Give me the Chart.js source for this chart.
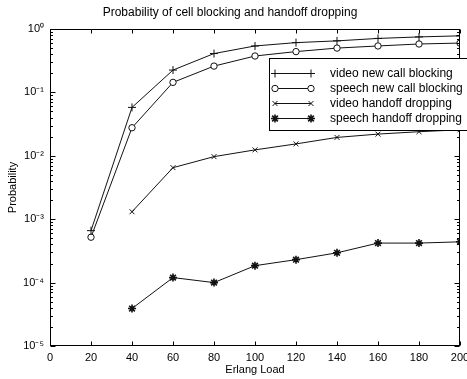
<!DOCTYPE html>
<html><head><meta charset="utf-8">
<style>html,body{margin:0;padding:0;background:#fff}#wrap{width:467px;height:379px}</style>
<script src="https://cdn.jsdelivr.net/npm/chart.js"></script>
</head><body><div id="wrap"><canvas id="c" width="467" height="379"></canvas></div>
<script>
const erlangLoad = [20, 40, 60, 80, 100, 120, 140, 160, 180, 200];
const videoNewCallBlocking  = [6.6e-4, 0.058, 0.225, 0.41, 0.54, 0.61, 0.65, 0.71, 0.75, 0.78];
const speechNewCallBlocking = [5.2e-4, 0.0277, 0.144, 0.26, 0.375, 0.44, 0.50, 0.54, 0.58, 0.60];
const videoHandoffDropping  = [null, 1.31e-3, 6.5e-3, 9.7e-3, 0.0124, 0.0154, 0.0195, 0.022, 0.024, 0.0257];
const speechHandoffDropping = [null, 3.9e-5, 1.2e-4, 1.0e-4, 1.85e-4, 2.3e-4, 2.95e-4, 4.2e-4, 4.2e-4, 4.4e-4];
const seriesLabels = ['video new call blocking', 'speech new call blocking', 'video handoff dropping', 'speech handoff dropping'];
const xTickValues = [0, 20, 40, 60, 80, 100, 120, 140, 160, 180, 200];
const yTickValues = [1e-5, 1e-4, 1e-3, 1e-2, 1e-1, 1];
const yTickLabels = ['10\u207B\u2075', '10\u207B\u2074', '10\u207B\u00B3', '10\u207B\u00B2', '10\u207B\u00B9', '10\u2070'];
const titleText = 'Probability of cell blocking and handoff dropping';
const xTitle = 'Erlang Load';
const yTitle = 'Probability';

const FONT = "'Liberation Sans', Arial, sans-serif";
Chart.defaults.font.family = FONT;
Chart.defaults.color = '#000';

function pts(arr) { return erlangLoad.map((x, i) => ({x: x, y: arr[i]})).filter(p => p.y !== null); }

const styles = [
  {pointStyle: 'cross', pointRadius: 4, bg: '#000', bw: 1},
  {pointStyle: 'circle', pointRadius: 3.2, bg: '#fff', bw: 1},
  {pointStyle: 'crossRot', pointRadius: 3.5, bg: '#000', bw: 1},
  {pointStyle: 'star', pointRadius: 4, bg: '#000', bw: 1.6}
];
const seriesData = [videoNewCallBlocking, speechNewCallBlocking, videoHandoffDropping, speechHandoffDropping];

const datasets = seriesData.map((arr, i) => ({
  label: seriesLabels[i],
  data: pts(arr),
  borderColor: '#111',
  borderWidth: 1,
  pointStyle: styles[i].pointStyle,
  pointRadius: styles[i].pointRadius,
  pointBackgroundColor: styles[i].bg,
  pointBorderColor: '#111',
  pointBorderWidth: styles[i].bw,
  tension: 0,
  fill: false
}));

function drawMarker(ctx, ds, x, y) {
  ctx.save();
  ctx.strokeStyle = ds.pointBorderColor;
  ctx.fillStyle = ds.pointBackgroundColor;
  ctx.lineWidth = ds.pointBorderWidth;
  if (Chart.helpers && Chart.helpers.drawPoint) {
    Chart.helpers.drawPoint(ctx, {pointStyle: ds.pointStyle, radius: ds.pointRadius, rotation: 0, borderWidth: ds.pointBorderWidth}, x, y);
  } else {
    ctx.beginPath(); ctx.arc(x, y, ds.pointRadius, 0, Math.PI * 2); ctx.fill(); ctx.stroke();
  }
  ctx.restore();
}

const framePlugin = {
  id: 'frame',
  afterDraw(chart) {
    const ctx = chart.ctx, a = chart.chartArea;
    const xs = chart.scales.x, ys = chart.scales.y;
    ctx.save();
    ctx.strokeStyle = '#000';
    ctx.lineWidth = 1;
    const L = Math.round(a.left) + 0.5, R = Math.round(a.right) - 0.5, T = Math.round(a.top) + 0.5, B = Math.round(a.bottom) - 0.5;
    ctx.strokeRect(L, T, R - L, B - T);
    ctx.beginPath();
    xTickValues.forEach(v => {
      const px = Math.round(xs.getPixelForValue(v)) + 0.5;
      ctx.moveTo(px, B); ctx.lineTo(px, B - 4);
      ctx.moveTo(px, T); ctx.lineTo(px, T + 4);
    });
    for (let e = -5; e <= 0; e++) {
      for (let k = 1; k <= 9; k++) {
        const v = k * Math.pow(10, e);
        if (v > 1) break;
        const py = Math.round(ys.getPixelForValue(v)) + 0.5;
        const len = k === 1 ? 5 : 2.5;
        ctx.moveTo(L, py); ctx.lineTo(L + len, py);
        ctx.moveTo(R, py); ctx.lineTo(R - len, py);
      }
    }
    ctx.stroke();

    // legend box
    const left = Math.round(a.right) - 191, top = Math.round(a.top) + 29, w = 210, h = 72;
    ctx.fillStyle = '#fff';
    ctx.fillRect(left, top, w, h);
    ctx.strokeRect(left + 0.5, top + 0.5, w, h);
    chart.data.datasets.forEach((ds, i) => {
      const y = Math.round(top + 15 + i * 15) + 0.5;
      ctx.strokeStyle = '#111';
      ctx.lineWidth = 1;
      ctx.beginPath(); ctx.moveTo(left + 6, y); ctx.lineTo(left + 42, y); ctx.stroke();
      drawMarker(ctx, ds, left + 6, y);
      drawMarker(ctx, ds, left + 42, y);
      ctx.fillStyle = '#000';
      ctx.font = '12px ' + FONT;
      ctx.textBaseline = 'middle';
      ctx.textAlign = 'left';
      ctx.fillText(ds.label, left + 61, y);
    });
    ctx.restore();
  }
};

new Chart(document.getElementById('c'), {
  type: 'line',
  data: {datasets: datasets},
  options: {
    responsive: false,
    animation: false,
    layout: {padding: {right: 7, left: 0, top: 0, bottom: 0}},
    plugins: {
      legend: {display: false},
      tooltip: {enabled: false},
      title: {display: true, text: titleText, font: {size: 12, weight: 'normal'}, color: '#000', padding: {top: 5, bottom: 9.6}}
    },
    scales: {
      x: {
        type: 'linear', min: 0, max: 200,
        afterBuildTicks: s => { s.ticks = xTickValues.map(v => ({value: v})); },
        afterFit: s => { s.height = 33; s.paddingLeft = 0; s.paddingRight = 0; },
        grid: {display: false, drawTicks: false},
        border: {display: false},
        ticks: {font: {size: 11}, color: '#000', padding: 5, maxRotation: 0, autoSkip: false},
        title: {display: true, text: xTitle, font: {size: 11}, color: '#000', padding: {top: 0, bottom: 2.4}}
      },
      y: {
        type: 'logarithmic', min: 1e-5, max: 1,
        afterBuildTicks: s => { s.ticks = yTickValues.map(v => ({value: v})); },
        afterFit: s => { s.width = 50; s.paddingTop = 0; s.paddingBottom = 0; },
        grid: {display: false, drawTicks: false},
        border: {display: false},
        ticks: {font: {size: 11}, color: '#000', padding: 6, autoSkip: false,
          callback: (v, i) => yTickLabels[i]},
        title: {display: true, text: yTitle, font: {size: 11}, color: '#000', padding: {top: 6, bottom: 0}}
      }
    }
  },
  plugins: [framePlugin]
});
</script>
</body></html>
